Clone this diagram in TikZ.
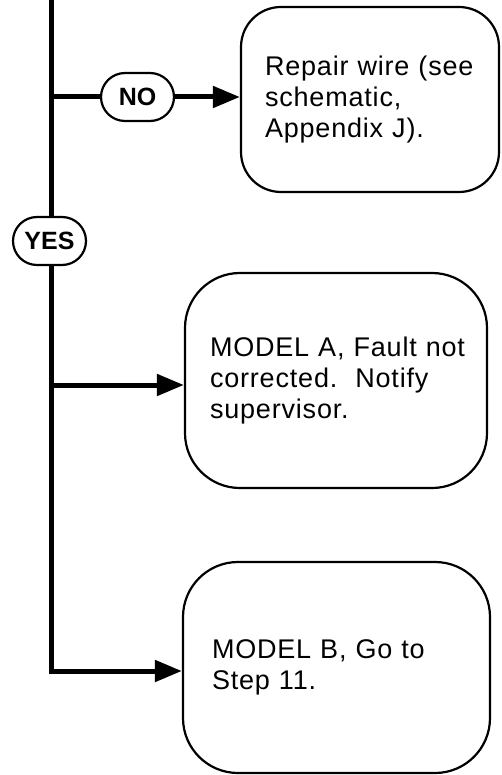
\documentclass[tikz,border=0pt]{standalone}
\usepackage{fontspec}
\newfontfamily\stepfont{Liberation Sans}[LetterSpace=3]
\newfontfamily\answerfont{Liberation Sans}[BoldFont={Liberation Sans Bold}]
\usetikzlibrary{arrows.meta,shapes.misc}

\newcommand\steptext{\stepfont\fontsize{27}{31}\selectfont}
\newcommand\answertext{\answerfont\bfseries\fontsize{25}{30}\selectfont}

\begin{document}
\begin{tikzpicture}[x=1pt,y=-1pt,
    flow/.style={line width=5pt},
    tip/.style={-{Triangle[length=27pt,width=21pt]}},
    stepbox/.style={draw,line width=2.2pt,rounded corners=#1,align=left,font=\steptext},
    answer/.style={draw,fill=white,line width=2.2pt,rounded rectangle,
      minimum width=73pt,minimum height=48pt,inner sep=0pt,font=\answertext}]
  \useasboundingbox (0,0) rectangle (501,775);
  % step boxes
  \node[stepbox=40pt,minimum width=258pt,minimum height=185pt,
    inner xsep=24pt,text width=210pt] (repair) at (370,99.5)
    {Repair~wire~(see\\schematic,\\Appendix~J).};
  \node[stepbox=55pt,minimum width=302pt,minimum height=215pt,
    inner xsep=25pt,text width=252pt] (modela) at (336,380.5)
    {MODEL~A,~Fault~not\\corrected.~~Notify\\supervisor.};
  \node[stepbox=55pt,minimum width=307pt,minimum height=211pt,
    inner xsep=29pt,text width=249pt] (modelb) at (336.5,667.5)
    {MODEL~B,~Go~to\\Step~11.};
  % main line
  \coordinate (top) at (51,0);
  \coordinate (corner) at (51,671);
  \coordinate (nojoint) at (51,97);
  \coordinate (ajoint) at (51,385);
  \draw[flow,tip] (top) -- (corner) -- (corner -| modelb.west);
  \draw[flow,tip] (ajoint) -- (ajoint -| modela.west);
  % answers
  \node[answer] (no) at (137.5,97) {NO};
  \draw[flow] (nojoint) -- (no.west);
  \draw[flow,tip] (no.east) -- (no.east -| repair.west);
  \node[answer] (yes) at (49.5,241) {YES};
\end{tikzpicture}
\end{document}
